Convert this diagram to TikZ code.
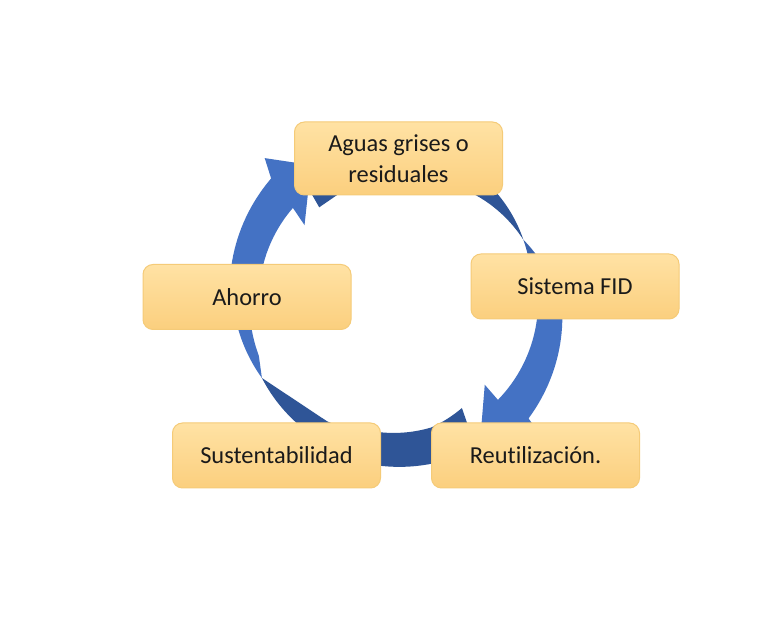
\documentclass[tikz,border=0pt]{standalone}
\usepackage{fontspec}
\setmainfont{Carlito}[Ligatures=NoCommon]
\usepackage{tikz}
\definecolor{ringBlue}{HTML}{4472C4}
\definecolor{ringDark}{HTML}{2F5597}
\definecolor{ringShade}{HTML}{3862AE}
\definecolor{boxTop}{HTML}{FFE2A4}
\definecolor{boxBottom}{HTML}{FBCF7E}
\definecolor{boxEdge}{HTML}{F5CB78}
\definecolor{boxText}{HTML}{1A1A1A}
\tikzset{
  cyclebox/.style={rounded corners=5pt,top color=boxTop,bottom color=boxBottom,
    draw=boxEdge,line width=0.5pt,minimum width=104pt,minimum height=32.5pt,
    inner sep=2pt,align=center,text=boxText,font=\fontsize{12.2}{15.5}\selectfont},
  declare function={ramp(\a,\p,\q,\u,\v)=\u+(\v-\u)*(\a-\p)/(\q-\p);},
}

\begin{document}
\begin{tikzpicture}[x=0.5pt,y=-0.5pt]
    \fill[white] (0,0) rectangle (782,640);
    \useasboundingbox (0,0) rectangle (782,640);
    \coordinate (ring) at (397,300);
    \begin{scope}[shift={(ring)},samples=24]
      % aguas -> fid
      \fill[ringDark] (230:121) -- (232:150)
        -- plot[domain=232:314] (\x:{ramp(\x,232,314,150,146)})
        -- plot[domain=314:334.5] (\x:{ramp(\x,314,334.5,146,140)})
        -- plot[domain=334.5:306.6] (\x:{ramp(\x,334.5,306.6,140,131)})
        -- plot[domain=306.6:241] (\x:{ramp(\x,306.6,241,131,121)}) -- cycle;
      \fill[ringShade] (334.5:140)
        -- plot[domain=334.5:358] (\x:{ramp(\x,334.5,358,140,160)}) -- (366:150)
        -- plot[domain=358:334.5] (\x:{ramp(\x,358,334.5,134,140)}) -- cycle;
      % fid -> reut
      \fill[ringBlue] (-5:163)
        -- plot[domain=-5:42] (\x:{ramp(\x,-5,42,163,177)})
        -- (43:192) -- (59.3:163) -- (44:122) -- (44.7:142)
        -- plot[domain=44.7:-5] (\x:{ramp(\x,44.7,-5,142,141)}) -- cycle;
      % reut -> sust
      \fill[ringDark] (59:126) -- (62:168)
        -- plot[domain=62:112] (\x:{ramp(\x,62,112,168,166)}) -- (118:150)
        -- plot[domain=108:75] (\x:{ramp(\x,108,75,134,132)})
        -- plot[domain=75:59] (\x:{ramp(\x,75,59,132,126)}) -- cycle;
      % sust -> ahorro
      \fill[ringDark] (112:161)
        -- plot[domain=112:150] (\x:{ramp(\x,112,150,161,156)}) -- (120:140)
        -- plot[domain=120:112] (\x:{ramp(\x,120,112,140,138)}) -- cycle;
      \fill[ringBlue] (150:156)
        -- plot[domain=150:186] (\x:{ramp(\x,150,186,156,166)}) -- (190:152)
        -- plot[domain=186:158] (\x:{ramp(\x,186,158,147,149)}) -- cycle;
      % ahorro -> aguas
      \fill[ringBlue] (180:167)
        -- plot[domain=180:224] (\x:{ramp(\x,180,224,167,175)})
        -- (227:194) -- (237.5:160) -- (219:119) -- (221.5:139)
        -- plot[domain=221.5:180] (\x:{ramp(\x,221.5,180,139,138)}) -- cycle;
    \end{scope}
    \node[cyclebox,minimum height=36.5pt] (aguas) at (398.5,158.5) {Aguas grises o\\residuales};
    \node[cyclebox] (fid) at (575,286.5) {Sistema FID};
    \node[cyclebox] (reut) at (535.5,455.5) {Reutilización.};
    \node[cyclebox] (sust) at (276.5,455.5) {Sustentabilidad};
    \node[cyclebox] (ahorro) at (247,297) {Ahorro};
\end{tikzpicture}
\end{document}
